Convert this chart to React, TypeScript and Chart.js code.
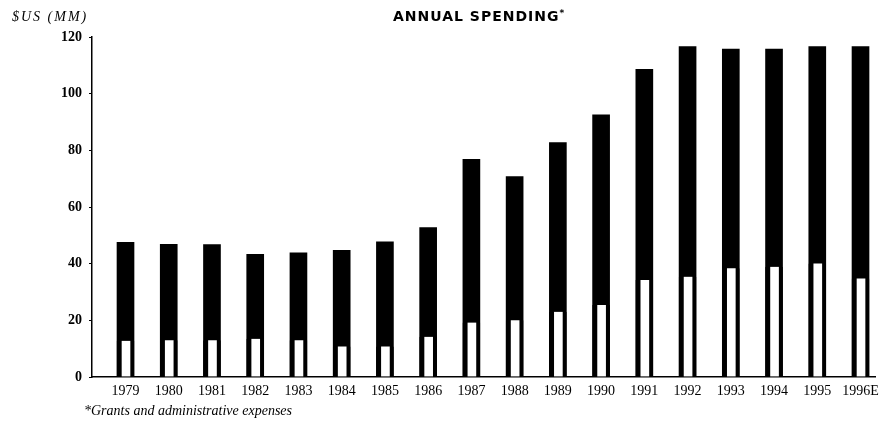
import React, { useEffect, useRef } from "react";
import { Chart, registerables } from "chart.js";

Chart.register(...registerables);

const years = ["1979", "1980", "1981", "1982", "1983", "1984", "1985", "1986", "1987", "1988", "1989", "1990", "1991", "1992", "1993", "1994", "1995", "1996E"];
const totalSpending = [47.5, 46.8, 46.7, 43.3, 43.8, 44.7, 47.7, 52.7, 76.8, 70.7, 82.7, 92.5, 108.6, 116.6, 115.7, 115.7, 116.6, 116.6];
const lowerSegment = [12.8, 13.0, 13.0, 13.5, 13.0, 10.8, 10.8, 14.2, 19.2, 20.0, 23.0, 25.4, 34.2, 35.4, 38.4, 38.9, 40.1, 34.8];
const yTicks = [0, 20, 40, 60, 80, 100, 120];

export default function App() {
  const ref = useRef<HTMLCanvasElement | null>(null);

  useEffect(() => {
    if (!ref.current) return;
    const chart = new Chart(ref.current, {
      type: "bar",
      data: {
        datasets: [
          {
            label: "Lower",
            data: lowerSegment.map((v, i) => ({ x: i, y: v })),
            backgroundColor: "#ffffff",
            borderColor: "#000000",
            borderWidth: { left: 5, right: 4, top: 0, bottom: 0 },
            borderSkipped: false,
            grouped: false,
            barThickness: 17,
          },
          {
            label: "Total",
            data: totalSpending.map((v, i) => ({ x: i, y: v })),
            backgroundColor: "#000000",
            borderWidth: 0,
            grouped: false,
            barThickness: 17,
          },
        ],
      } as any,
      options: {
        animation: false,
        responsive: true,
        maintainAspectRatio: false,
        layout: { padding: { top: 37, right: 4, bottom: 0, left: 0 } },
        plugins: { legend: { display: false }, tooltip: { enabled: false }, title: { display: false } },
        scales: {
          x: {
            type: "linear",
            offset: false,
            bounds: "data",
            min: -0.775,
            max: 17.335,
            grid: { display: false },
            border: { display: true, color: "#000", width: 1.5 },
            afterBuildTicks: (scale: any) => {
              scale.ticks = years.map((_, i) => ({ value: i }));
            },
            afterFit: (scale: any) => {
              scale.height = 46;
            },
            ticks: {
              autoSkip: false,
              maxRotation: 0,
              padding: -2,
              color: "#000",
              font: { family: "Liberation Serif", size: 14 },
              callback: (v: any) => years[Math.round(Number(v))] ?? "",
            },
          },
          y: {
            min: 0,
            max: 120,
            afterBuildTicks: (scale: any) => {
              scale.ticks = yTicks.map((v) => ({ value: v }));
            },
            afterFit: (scale: any) => {
              scale.width = 92;
            },
            grid: { drawOnChartArea: false, drawTicks: true, tickLength: 3, color: "#000", lineWidth: 1 },
            border: { display: true, color: "#000", width: 1.5 },
            ticks: {
              padding: 7,
              color: "#000",
              font: { family: "Liberation Serif", size: 14, weight: "bold" },
            },
          },
        },
      } as any,
    });
    return () => chart.destroy();
  }, []);

  return (
    <div style={{ position: "fixed", left: 0, top: 0, width: 879, height: 423, background: "#fff" }}>
      <canvas ref={ref} />
      <div
        style={{
          position: "absolute",
          left: 12,
          top: 9,
          fontFamily: "Liberation Serif",
          fontStyle: "italic",
          fontSize: 14,
          letterSpacing: 2,
          color: "#000",
          whiteSpace: "nowrap",
        }}
      >
        $US (MM)
      </div>
      <div
        style={{
          position: "absolute",
          left: 393,
          top: 8,
          fontFamily: "DejaVu Sans",
          fontWeight: 900,
          fontSize: 14,
          letterSpacing: 1,
          color: "#000",
          whiteSpace: "nowrap",
        }}
      >
        ANNUAL SPENDING<span style={{ fontSize: 9, verticalAlign: "top" }}>*</span>
      </div>
      <div
        style={{
          position: "absolute",
          left: 84,
          top: 403,
          fontFamily: "Liberation Serif",
          fontStyle: "italic",
          fontSize: 14,
          color: "#000",
          whiteSpace: "nowrap",
        }}
      >
        *Grants and administrative expenses
      </div>
    </div>
  );
}
